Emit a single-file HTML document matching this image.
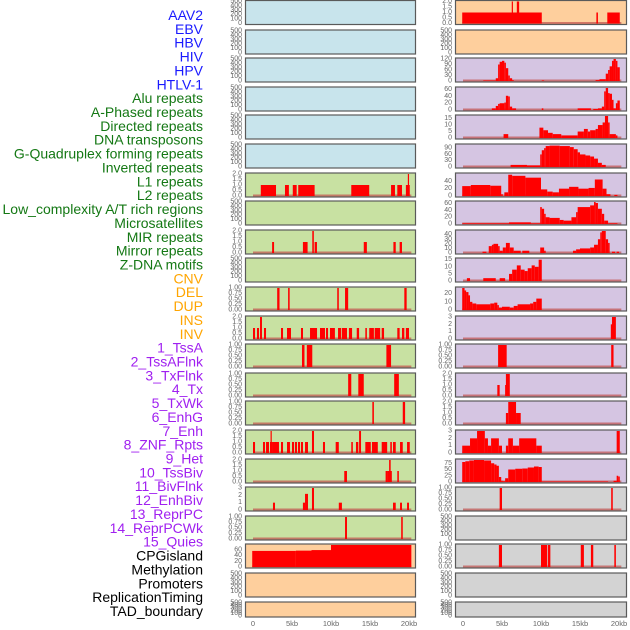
<!DOCTYPE html>
<html><head><meta charset="utf-8">
<style>
html,body{margin:0;padding:0;background:#fff;}
svg{display:block;font-family:"Liberation Sans",sans-serif;}
</style></head>
<body>
<svg id="chart" width="630" height="630" viewBox="0 0 630 630" xmlns="http://www.w3.org/2000/svg"></svg>
<script>
const trackLabels = ["AAV2","EBV","HBV","HIV","HPV","HTLV-1","Alu repeats","A-Phased repeats","Directed repeats","DNA transposons","G-Quadruplex forming repeats","Inverted repeats","L1 repeats","L2 repeats","Low_complexity A/T rich regions","Microsatellites","MIR repeats","Mirror repeats","Z-DNA motifs","CNV","DEL","DUP","INS","INV","1_TssA","2_TssAFlnk","3_TxFlnk","4_Tx","5_TxWk","6_EnhG","7_Enh","8_ZNF_Rpts","9_Het","10_TssBiv","11_BivFlnk","12_EnhBiv","13_ReprPC","14_ReprPCWk","15_Quies","CPGisland","Methylation","Promoters","ReplicationTiming","TAD_boundary"];
const labelColors = ["#1a1aff","#1a1aff","#1a1aff","#1a1aff","#1a1aff","#1a1aff","#147814","#147814","#147814","#147814","#147814","#147814","#147814","#147814","#147814","#147814","#147814","#147814","#147814","#ffa500","#ffa500","#ffa500","#ffa500","#ffa500","#a020f0","#a020f0","#a020f0","#a020f0","#a020f0","#a020f0","#a020f0","#a020f0","#a020f0","#a020f0","#a020f0","#a020f0","#a020f0","#a020f0","#a020f0","#000","#000","#000","#000","#000"];
const xTickValues = [0,5,10,15,20];
const xTickLabels = ["0","5kb","10kb","15kb","20kb"];

const E = [0,100,200,300,400,500];
const T2 = [0,0.5,1,1.5,2];
const T1 = [0,0.25,0.5,0.75,1];
const T3 = [0,1,2,3];

// left column panels: background, tick values, axis max, bars [startKb, endKb, value]
const leftBg = ["#c8e4ec","#c8e4ec","#c8e4ec","#c8e4ec","#c8e4ec","#c8e4ec","#c8e1a2","#c8e1a2","#c8e1a2","#c8e1a2","#c8e1a2","#c8e1a2","#c8e1a2","#c8e1a2","#c8e1a2","#c8e1a2","#c8e1a2","#c8e1a2","#c8e1a2","#fecf9d","#fecf9d","#fecf9d"];
const leftTicks = [E,E,E,E,E,E,T2,E,T2,E,T1,T2,T1,T1,T1,T2,T2,T3,T1,[0,20,40,60],E,E];
const leftMax = [500,500,500,500,500,500,2,500,2,500,1,2,1,1,1,2,2,3,1,78,500,500];
const leftBars = [
 [],[],[],[],[],[],
 [[1.0,2.95,1],[4.1,4.6,1],[5.1,5.6,1],[5.8,7.9,1],[12.6,14.9,1],[17.7,18.2,1],[18.5,19.1,1],[19.6,20.1,1],[19.85,20.0,2]],
 [],
 [[2.45,2.7,1],[6.4,7.0,1],[7.6,7.8,2],[7.9,8.2,1],[14.2,14.6,1],[18.0,18.3,1],[18.8,19.1,1]],
 [],
 [[3.1,3.4,1],[4.5,4.7,1],[10.8,11.0,1],[11.8,12.2,1],[19.4,19.7,1]],
 [[0.0,0.26,1],[0.51,0.77,1],[0.9,1.15,2],[1.41,1.67,1],[3.59,3.85,1],[4.36,4.87,1],[6.15,6.41,1],[7.31,8.21,1],[8.59,9.23,1],[9.36,9.62,1],[9.87,10.5,1],[10.9,11.3,1],[11.4,12.05,1],[12.3,12.7,1],[13.3,13.6,1],[14.4,14.6,1],[14.9,15.5,1],[15.6,16.3,1],[16.5,16.8,1],[18.5,18.8,1],[19.1,19.4,1],[19.6,20.0,1]],
 [[6.28,6.6,1],[6.9,7.6,1],[17.1,17.7,1]],
 [[12.2,12.6,1],[13.5,14.2,1],[18.1,18.7,1]],
 [[15.3,15.5,1],[19.2,19.5,1]],
 [[0.0,0.26,1],[1.28,1.54,1],[1.67,2.05,1],[2.18,2.44,1],[2.25,2.38,2],[2.44,3.33,1],[3.59,3.85,1],[4.36,4.74,1],[5.0,5.26,1],[5.38,5.64,1],[5.77,6.03,1],[6.15,6.41,1],[6.67,7.05,1],[7.56,7.82,2],[8.97,9.23,1],[10.6,11.0,1],[12.6,12.8,1],[13.2,13.5,1],[13.6,13.85,2],[14.4,15.1,1],[15.25,16.0,1],[16.5,17.2,1],[17.6,17.8,1],[17.95,18.3,1],[18.85,19.2,1],[19.75,20.1,1]],
 [[11.7,12.05,1],[17.0,17.3,1],[17.3,17.8,1],[17.45,17.65,2],[18.5,18.7,1]],
 [[2.56,2.82,1],[6.4,6.67,1],[6.67,7.05,2.2],[7.56,7.82,3],[11.0,11.4,1],[17.95,18.3,1],[18.85,19.1,1],[19.75,20.0,1]],
 [[11.8,12.05,1],[19.0,19.2,1]],
 [[-0.1,5.5,57],[5.5,7.5,58],[7.5,10.0,60],[10.0,20.3,78]],
 [],[]
];

const rightBg = ["#fecf9d","#fecf9d","#d5c5e2","#d5c5e2","#d5c5e2","#d5c5e2","#d5c5e2","#d5c5e2","#d5c5e2","#d5c5e2","#d5c5e2","#d5c5e2","#d5c5e2","#d5c5e2","#d5c5e2","#d5c5e2","#d5c5e2","#d3d3d3","#d3d3d3","#d3d3d3","#d3d3d3","#d3d3d3"];
const rightTicks = [T2,E,[0,30,60,90,120],[0,20,40,60],[0,5,10,15],[0,30,60,90],[0,20,40],[0,20,40,60],[0,10,20,30,40],[0,5,10,15],[0,10,20],T3,T1,T2,T2,T3,[0,25,50,75],T1,E,T1,E,E];
const rightMax = [2,500,120,65,17,105,60,65,48,15.5,27,3,1,2,2,3,88,1,500,1,500,500];
const rightBars = [
 [[-0.1,10.1,1],[6.25,6.4,2],[6.9,7.2,2],[17.1,17.3,1],[18.5,20.1,1]],
 [],
 [[2.6,4.2,3],[4.2,4.5,15],[4.5,4.7,90],[4.7,5.0,105],[5.0,5.3,110],[5.3,5.5,100],[5.5,5.8,70],[5.8,6.0,30],[6.0,6.3,15],[6.3,6.5,5],[10.1,10.4,3],[17.0,17.5,5],[17.5,18.3,10],[18.3,18.6,40],[18.6,18.8,60],[18.8,19.1,80],[19.1,19.3,110],[19.3,19.6,120],[19.6,19.8,110],[19.8,20.1,75]],
 [[3.7,4.2,5],[4.2,4.5,12],[4.5,4.7,18],[4.7,5.3,20],[5.3,5.5,22],[5.5,5.8,42],[5.8,6.0,40],[6.0,6.3,10],[6.3,6.8,5],[10.1,10.3,5],[14.7,16.4,5],[16.7,17.3,3],[17.3,17.8,5],[17.8,18.1,10],[18.1,18.3,55],[18.3,18.6,65],[18.6,18.8,50],[18.8,19.1,48],[19.1,19.3,30],[19.3,19.6,5],[19.6,19.8,20],[19.8,20.1,28]],
 [[5.2,5.8,3],[9.8,10.3,8],[10.3,10.9,6],[10.9,11.5,4],[11.5,12.6,3],[12.6,14.7,2],[14.7,15.5,5],[15.5,16.0,7],[16.0,16.3,5],[16.3,17.0,6],[17.0,17.3,7],[17.3,17.9,10],[17.9,18.2,12],[18.2,18.6,17],[18.6,18.8,12],[18.8,19.6,3],[19.6,19.8,2]],
 [[6.1,8.2,10],[8.2,9.9,8],[9.9,10.1,60],[10.1,10.4,80],[10.4,10.6,90],[10.6,11.1,100],[11.1,12.4,102],[12.4,13.7,100],[13.7,14.2,95],[14.2,14.7,85],[14.7,15.0,70],[15.0,15.7,60],[15.7,16.3,55],[16.3,16.8,50],[16.8,17.3,40],[17.3,17.8,20],[17.8,18.3,10]],
 [[-0.1,1.0,27],[1.0,3.5,30],[3.5,4.9,28],[4.9,5.1,5],[5.3,5.8,10],[5.8,6.3,58],[6.3,8.0,55],[8.0,10.0,50],[10.0,10.8,18],[10.8,11.5,12],[11.5,12.3,10],[12.3,13.6,20],[13.6,14.8,25],[14.8,16.1,20],[16.1,16.9,22],[16.9,17.9,45],[17.9,18.4,20],[18.4,18.9,5],[19.4,19.8,3]],
 [[-0.1,5.9,2],[5.9,8.7,5],[8.7,9.9,2],[9.9,10.1,50],[10.1,10.4,45],[10.4,10.6,30],[10.6,11.1,20],[11.1,12.4,18],[12.4,12.9,12],[12.9,13.9,10],[13.9,14.5,20],[14.5,14.7,35],[14.7,16.3,50],[16.3,16.8,55],[16.8,17.0,65],[17.0,17.3,62],[17.3,17.8,45],[17.8,18.1,30],[18.1,18.6,10],[18.6,19.8,2]],
 [[2.5,3.0,3],[3.3,3.7,15],[3.7,3.9,18],[3.9,4.5,20],[4.5,4.7,15],[4.7,5.1,5],[5.1,5.5,12],[5.5,6.0,22],[6.0,6.5,12],[6.5,7.4,5],[7.6,8.5,5],[9.9,10.4,12],[10.4,10.6,5],[14.1,14.5,5],[14.5,15.0,8],[15.0,16.3,10],[16.3,16.8,12],[16.8,17.3,18],[17.3,17.6,30],[17.6,17.8,45],[17.8,18.3,48],[18.3,18.6,30],[18.6,18.8,22],[19.1,19.5,3],[19.7,20.0,3]],
 [[0.5,0.9,2],[2.6,4.2,2],[4.7,5.4,2],[5.9,6.3,5],[6.3,6.9,8],[6.9,7.4,11],[7.4,7.9,8],[7.9,8.3,7],[8.3,8.8,9],[8.8,9.2,11],[9.2,9.7,10],[9.7,10.1,15]],
 [[-0.1,0.2,27],[0.2,0.4,24],[0.4,0.7,22],[0.7,0.9,18],[0.9,1.2,10],[1.2,1.7,8],[1.7,3.5,7],[3.5,4.0,8],[4.0,4.4,9],[4.4,4.6,6],[4.6,5.0,3],[5.0,6.0,4],[6.0,6.5,3],[6.5,7.0,5],[7.0,8.6,7],[8.6,9.0,8],[9.0,9.4,10],[9.4,10.1,14]],
 [[18.95,19.1,2],[19.1,19.6,3]],
 [[4.5,5.6,1],[19.0,19.3,1]],
 [[4.4,4.7,1],[5.4,5.6,1],[5.5,6.0,2]],
 [[5.5,5.8,1],[5.8,6.8,2],[6.8,7.4,1]],
 [[-0.1,0.9,1],[0.9,1.8,2],[1.8,2.8,3],[2.8,3.2,2],[3.2,3.6,1],[3.6,4.6,2],[4.6,5.0,1],[5.5,5.8,1],[5.8,6.4,2],[6.4,7.2,1],[7.2,9.4,2],[9.4,10.1,1],[19.7,20.1,3]],
 [[-0.1,0.3,80],[0.3,0.8,83],[0.8,1.4,86],[1.4,2.7,88],[2.7,3.6,86],[3.6,4.0,75],[4.0,4.3,70],[4.3,4.6,65],[4.6,4.9,20],[4.9,5.1,5],[5.1,5.4,3],[5.4,5.8,15],[5.8,6.7,50],[6.7,7.6,53],[7.6,8.3,54],[8.3,9.1,58],[9.1,9.7,62],[9.7,10.1,60],[10.1,18.6,2],[19.3,19.7,5],[19.7,19.9,25],[19.9,20.1,22]],
 [[4.7,5.0,1],[19.0,19.2,1]],
 [],
 [[4.6,5.0,1],[10.0,10.8,1],[10.9,11.2,1],[15.1,15.5,1],[16.4,16.7,1],[19.4,19.6,1]],
 [],[]
];
// which panels show the faint baseline strip (non-empty ones)
const svg = document.getElementById('chart');
const NS = 'http://www.w3.org/2000/svg';
function mk(tag, attrs, parent){const e=document.createElementNS(NS,tag);for(const k in attrs)e.setAttribute(k,attrs[k]);(parent||svg).appendChild(e);return e;}

// labels
trackLabels.forEach((t,i)=>{
  const el = mk('text',{x:203,y:15+i*13.86,'text-anchor':'end','dominant-baseline':'central','font-size':14,fill:labelColors[i]});
  el.textContent = t;
  
  
});

const cols = [
  {left:245,right:416,x0:253,bg:leftBg,ticks:leftTicks,max:leftMax,bars:leftBars,name:'left'},
  {left:455,right:627,x0:463,bg:rightBg,ticks:rightTicks,max:rightMax,bars:rightBars,name:'right'}
];
const KB = 7.8;
cols.forEach(c=>{
  const xs = kb => c.x0 + kb*KB;
  for(let i=0;i<22;i++){
    const top = Math.round(28.6*i)+ (i==0?0:0.5);
    const h = i==21 ? 16 : 25;
    const g = mk('g',{});
    
    
    mk('rect',{x:c.left,y:top,width:c.right-c.left,height:h,fill:c.bg[i]},g);
    const ymax = c.max[i];
    const yb = top+h-1.5, ysp = h-3;
    const ys = v => yb - v/ymax*ysp;
    const bars = c.bars[i];
    if(bars.length){
      const s = Math.max(-0.1, Math.min(...bars.map(b=>b[0])));
      const base = mk('rect',{x:xs(Math.min(s,0)),y:yb-1.5,width:xs(20.3)-xs(Math.min(s,0)),height:2,fill:'#c0504d',opacity:0.7},g);
      
      
    }
    bars.forEach(b=>{
      const x1=xs(b[0]), x2=xs(b[1]);
      const r = mk('rect',{x:x1,y:ys(b[2]),width:Math.max(1.2,x2-x1),height:yb-ys(b[2]),fill:'#ff0000'},g);
      
      
    });
    mk('rect',{x:c.left+0.5,y:top+0.5,width:c.right-c.left-1,height:h-1,fill:'none',stroke:'#5a5a5a','stroke-width':1.2},g);
    c.ticks[i].forEach(v=>{
      const lbl = (c.ticks[i]===T1)? v.toFixed(2) : (c.ticks[i]===T2? v.toFixed(1) : String(v));
      const t = mk('text',{x:c.left-3,y:ys(v),'text-anchor':'end','dominant-baseline':'central','font-size':7,fill:'#666'},g);
      t.textContent = lbl;
      
      
    });
  }
  xTickValues.forEach((v,k)=>{
    const t = mk('text',{x:xs(v),y:626,'text-anchor':'middle','font-size':7.5,fill:'#666'});
    t.textContent = xTickLabels[k];
    
    
  });
});
</script>
</body></html>
